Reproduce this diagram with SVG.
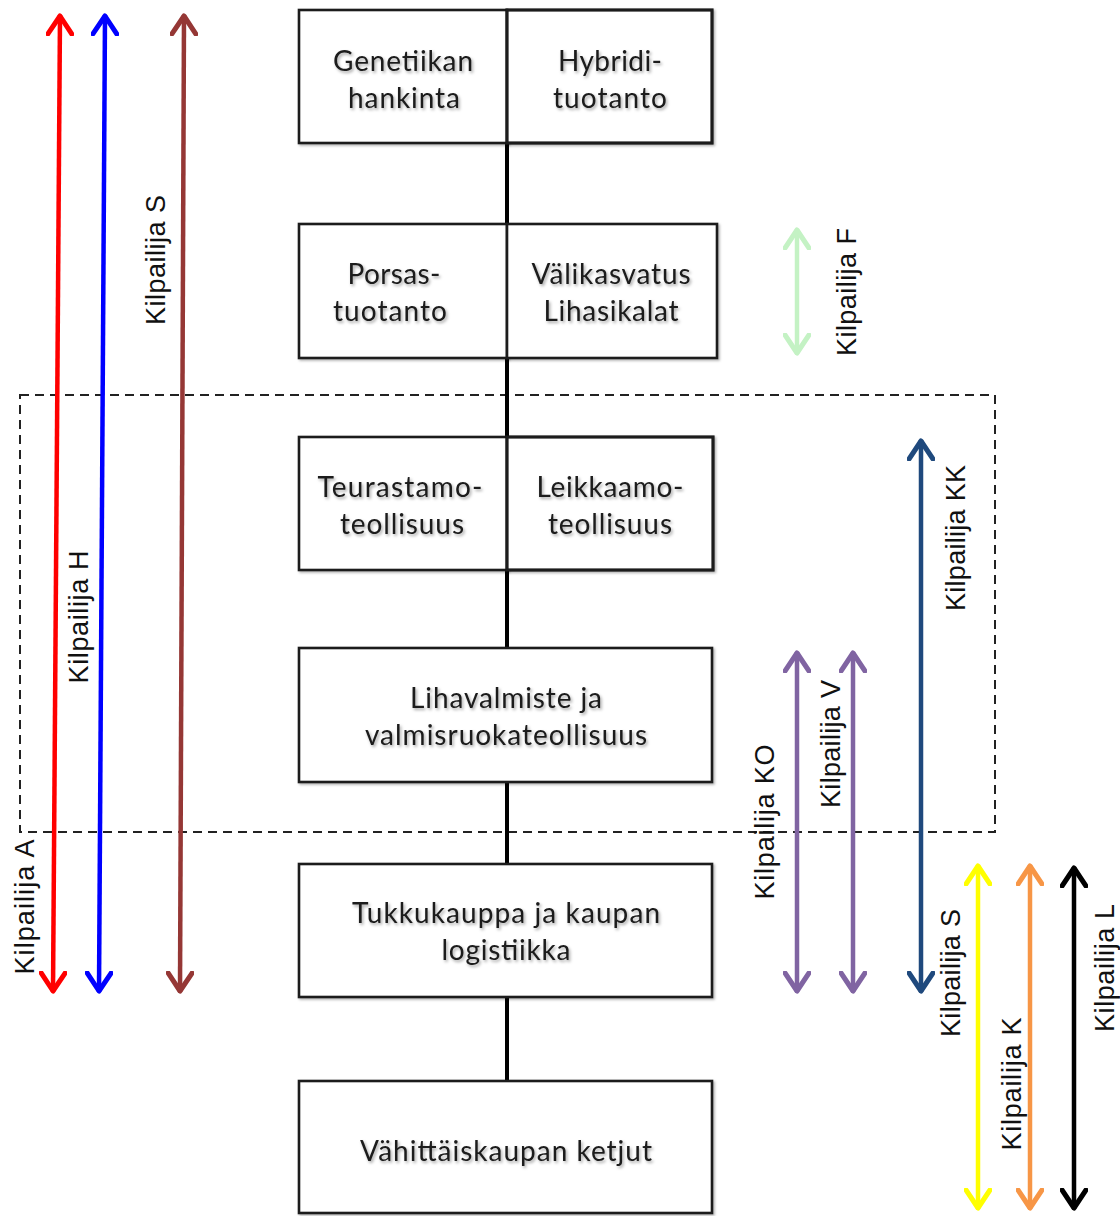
<svg xmlns="http://www.w3.org/2000/svg" width="1120" height="1216" viewBox="0 0 1120 1216">
  <style>
    .box { fill: #ffffff; stroke: #1a1a1a; stroke-width: 2.6; }
    .lbl { font-family: Lato, "Open Sans", "Liberation Sans", sans-serif; font-size: 28px; fill: #1a1a1a; text-anchor: middle; }
    .cmp { font-family: "Liberation Sans", Arial, sans-serif; font-size: 27px; fill: #111111; text-anchor: middle; }
    .link { stroke: #000000; stroke-width: 4; fill: none; }
    .arr { fill: none; stroke-width: 4.5; }
    .zone { fill: none; stroke: #222222; stroke-width: 2; stroke-dasharray: 9 6; }
    .head { fill: none; stroke-width: 5; stroke-linecap: round; stroke-linejoin: round; }
  </style>
  <defs>
    <filter id="soft" x="-10%" y="-20%" width="120%" height="140%">
      <feDropShadow dx="1.5" dy="2" stdDeviation="1.4" flood-color="#000000" flood-opacity="0.35"/>
    </filter>
    <filter id="boxshadow" x="-5%" y="-5%" width="110%" height="115%">
      <feDropShadow dx="1.5" dy="1.5" stdDeviation="1" flood-color="#000000" flood-opacity="0.3"/>
    </filter>
    <marker id="hRed" viewBox="0 0 24 28" refX="21" refY="14" markerWidth="24" markerHeight="28" markerUnits="userSpaceOnUse" orient="auto-start-reverse">
      <path class="head" d="M2,2 L20,14 L2,26" stroke="#ff0000"/>
    </marker>
    <marker id="hBlue" viewBox="0 0 24 28" refX="21" refY="14" markerWidth="24" markerHeight="28" markerUnits="userSpaceOnUse" orient="auto-start-reverse">
      <path class="head" d="M2,2 L20,14 L2,26" stroke="#0000ff"/>
    </marker>
    <marker id="hBrown" viewBox="0 0 24 28" refX="21" refY="14" markerWidth="24" markerHeight="28" markerUnits="userSpaceOnUse" orient="auto-start-reverse">
      <path class="head" d="M2,2 L20,14 L2,26" stroke="#953735"/>
    </marker>
    <marker id="hGreen" viewBox="0 0 24 28" refX="21" refY="14" markerWidth="24" markerHeight="28" markerUnits="userSpaceOnUse" orient="auto-start-reverse">
      <path class="head" d="M2,2 L20,14 L2,26" stroke="#c4f2c4"/>
    </marker>
    <marker id="hNavy" viewBox="0 0 24 28" refX="21" refY="14" markerWidth="24" markerHeight="28" markerUnits="userSpaceOnUse" orient="auto-start-reverse">
      <path class="head" d="M2,2 L20,14 L2,26" stroke="#1f497d"/>
    </marker>
    <marker id="hPurple" viewBox="0 0 24 28" refX="21" refY="14" markerWidth="24" markerHeight="28" markerUnits="userSpaceOnUse" orient="auto-start-reverse">
      <path class="head" d="M2,2 L20,14 L2,26" stroke="#8064a2"/>
    </marker>
    <marker id="hYellow" viewBox="0 0 24 28" refX="21" refY="14" markerWidth="24" markerHeight="28" markerUnits="userSpaceOnUse" orient="auto-start-reverse">
      <path class="head" d="M2,2 L20,14 L2,26" stroke="#ffff00"/>
    </marker>
    <marker id="hOrange" viewBox="0 0 24 28" refX="21" refY="14" markerWidth="24" markerHeight="28" markerUnits="userSpaceOnUse" orient="auto-start-reverse">
      <path class="head" d="M2,2 L20,14 L2,26" stroke="#f79646"/>
    </marker>
    <marker id="hBlack" viewBox="0 0 24 28" refX="21" refY="14" markerWidth="24" markerHeight="28" markerUnits="userSpaceOnUse" orient="auto-start-reverse">
      <path class="head" d="M2,2 L20,14 L2,26" stroke="#000000"/>
    </marker>
  </defs>

  <rect width="1120" height="1216" fill="#ffffff"/>

  <!-- processing stages covered by the industry -->
  <rect id="industry-zone" class="zone" x="20" y="395" width="975" height="437"/>

  <!-- chain links between the stages -->
  <g id="connectors">
    <line class="link" x1="507" y1="143" x2="507" y2="224"/>
    <line class="link" x1="507" y1="358" x2="507" y2="437"/>
    <line class="link" x1="507" y1="570" x2="507" y2="648"/>
    <line class="link" x1="507" y1="782" x2="507" y2="864"/>
    <line class="link" x1="507" y1="997" x2="507" y2="1081"/>
  </g>

  <!-- value chain stages -->
  <g id="genetiikka">
    <rect class="box" x="299" y="10" width="208" height="133" filter="url(#boxshadow)"/>
    <text class="lbl" filter="url(#soft)"><tspan x="403" y="71" textLength="140">Genetiikan</tspan><tspan x="404" y="108" textLength="112">hankinta</tspan></text>
  </g>
  <g id="hybridi">
    <rect class="box" x="507" y="10" width="205" height="133" filter="url(#boxshadow)" style="stroke-width:3.2"/>
    <text class="lbl" filter="url(#soft)"><tspan x="610" y="71" textLength="104">Hybridi-</tspan><tspan x="610" y="108" textLength="114">tuotanto</tspan></text>
  </g>
  <g id="porsas">
    <rect class="box" x="299" y="224" width="208" height="134" filter="url(#boxshadow)"/>
    <text class="lbl" filter="url(#soft)"><tspan x="394" y="284" textLength="93">Porsas-</tspan><tspan x="390" y="321" textLength="114">tuotanto</tspan></text>
  </g>
  <g id="valikasvatus">
    <rect class="box" x="507" y="224" width="210" height="134" filter="url(#boxshadow)"/>
    <text class="lbl" filter="url(#soft)"><tspan x="611" y="284" textLength="159">Välikasvatus</tspan><tspan x="611" y="321" textLength="135">Lihasikalat</tspan></text>
  </g>
  <g id="teurastamo">
    <rect class="box" x="299" y="437" width="208" height="133" filter="url(#boxshadow)"/>
    <text class="lbl" filter="url(#soft)"><tspan x="400" y="497" textLength="165">Teurastamo-</tspan><tspan x="402" y="534" textLength="124">teollisuus</tspan></text>
  </g>
  <g id="leikkaamo">
    <rect class="box" x="507" y="437" width="206" height="133" filter="url(#boxshadow)" style="stroke-width:3.2"/>
    <text class="lbl" filter="url(#soft)"><tspan x="610" y="497" textLength="147">Leikkaamo-</tspan><tspan x="610" y="534" textLength="124">teollisuus</tspan></text>
  </g>
  <g id="lihavalmiste">
    <rect class="box" x="299" y="648" width="413" height="134" filter="url(#boxshadow)"/>
    <text class="lbl" filter="url(#soft)"><tspan x="506" y="708" textLength="192">Lihavalmiste ja</tspan><tspan x="506" y="745" textLength="282">valmisruokateollisuus</tspan></text>
  </g>
  <g id="tukkukauppa">
    <rect class="box" x="299" y="864" width="413" height="133" filter="url(#boxshadow)"/>
    <text class="lbl" filter="url(#soft)"><tspan x="506" y="923" textLength="308">Tukkukauppa ja kaupan</tspan><tspan x="506" y="960" textLength="129">logistiikka</tspan></text>
  </g>
  <g id="vahittaiskauppa">
    <rect class="box" x="299" y="1081" width="413" height="132" filter="url(#boxshadow)"/>
    <text class="lbl" filter="url(#soft)"><tspan x="506" y="1161" textLength="292">Vähittäiskaupan ketjut</tspan></text>
  </g>

  <!-- competitor coverage ranges -->
  <g id="kilpailijat">
    <line class="arr" stroke="#ff0000" x1="60" y1="15" x2="53" y2="992" marker-start="url(#hRed)" marker-end="url(#hRed)"/>
    <line class="arr" stroke="#0000ff" x1="105" y1="15" x2="99" y2="992" marker-start="url(#hBlue)" marker-end="url(#hBlue)"/>
    <line class="arr" stroke="#953735" x1="184" y1="15" x2="180" y2="992" marker-start="url(#hBrown)" marker-end="url(#hBrown)"/>
    <line class="arr" stroke="#c4f2c4" x1="797" y1="229" x2="797" y2="354" marker-start="url(#hGreen)" marker-end="url(#hGreen)"/>
    <line class="arr" stroke="#1f497d" x1="921" y1="440" x2="921" y2="992" marker-start="url(#hNavy)" marker-end="url(#hNavy)"/>
    <line class="arr" stroke="#8064a2" x1="797" y1="652" x2="797" y2="992" marker-start="url(#hPurple)" marker-end="url(#hPurple)"/>
    <line class="arr" stroke="#8064a2" x1="853" y1="652" x2="853" y2="992" marker-start="url(#hPurple)" marker-end="url(#hPurple)"/>
    <line class="arr" stroke="#ffff00" x1="978" y1="865" x2="978" y2="1209" marker-start="url(#hYellow)" marker-end="url(#hYellow)"/>
    <line class="arr" stroke="#f79646" x1="1030" y1="865" x2="1030" y2="1209" marker-start="url(#hOrange)" marker-end="url(#hOrange)"/>
    <line class="arr" stroke="#000000" x1="1074" y1="867" x2="1074" y2="1209" marker-start="url(#hBlack)" marker-end="url(#hBlack)"/>

    <text class="cmp" transform="translate(34,907) rotate(-90)" textLength="135">Kilpailija A</text>
    <text class="cmp" transform="translate(88,617) rotate(-90)" textLength="133">Kilpailija H</text>
    <text class="cmp" transform="translate(165,260) rotate(-90)" textLength="130">Kilpailija S</text>
    <text class="cmp" transform="translate(856,292) rotate(-90)" textLength="128">Kilpailija F</text>
    <text class="cmp" transform="translate(965,538) rotate(-90)" textLength="146">Kilpailija KK</text>
    <text class="cmp" transform="translate(774,822) rotate(-90)" textLength="155">Kilpailija KO</text>
    <text class="cmp" transform="translate(840,744) rotate(-90)" textLength="128">Kilpailija V</text>
    <text class="cmp" transform="translate(960,973) rotate(-90)" textLength="128">Kilpailija S</text>
    <text class="cmp" transform="translate(1021,1084) rotate(-90)" textLength="133">Kilpailija K</text>
    <text class="cmp" transform="translate(1114,968) rotate(-90)" textLength="128">Kilpailija L</text>
  </g>
</svg>
